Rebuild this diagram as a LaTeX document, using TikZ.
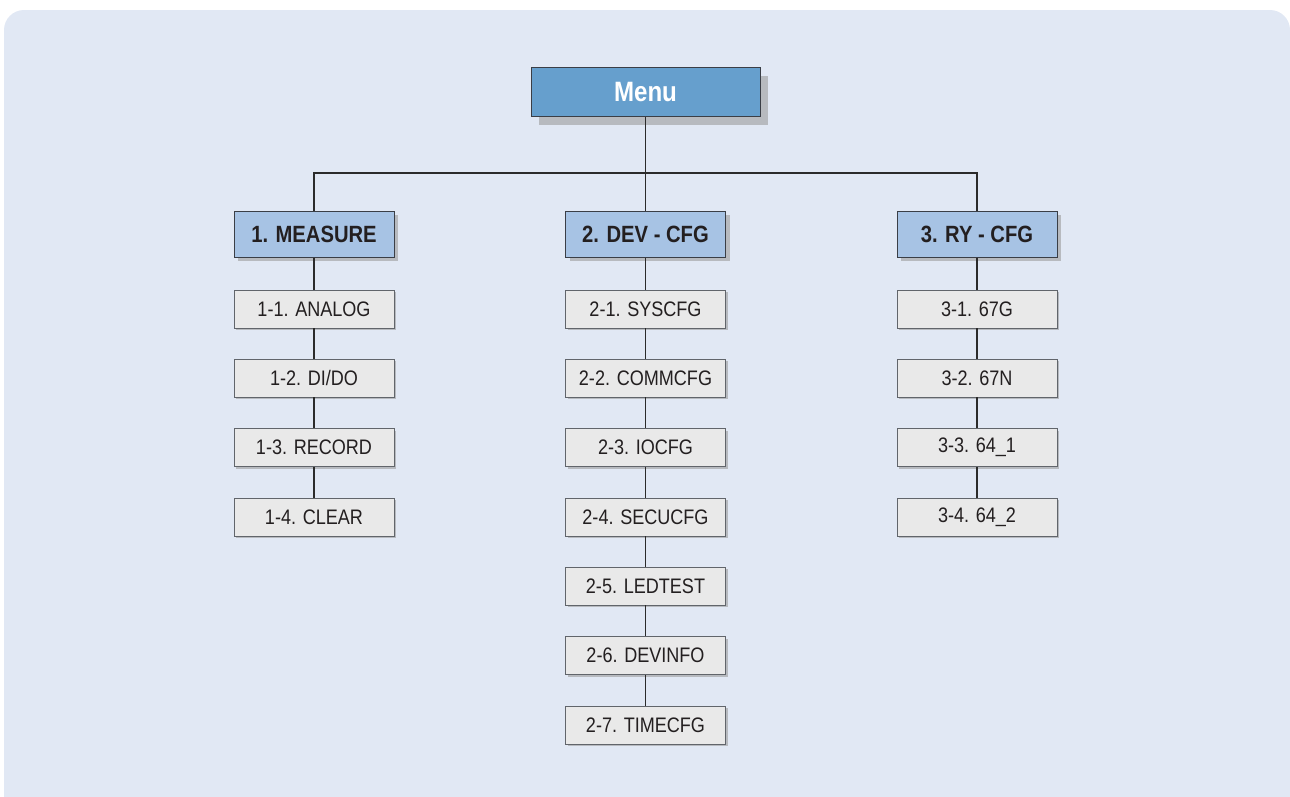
\documentclass[tikz,border=0pt]{standalone}
\usepackage{fontspec}
\setmainfont{Liberation Sans}[FakeStretch=0.86]
\usetikzlibrary{shadows}
\definecolor{bgcol}{HTML}{E1E8F4}
\definecolor{menucol}{HTML}{669FCD}
\definecolor{catcol}{HTML}{A7C3E4}
\definecolor{leafcol}{HTML}{E9E9E9}
\definecolor{shadowcol}{HTML}{B7BABF}
\definecolor{edgecol}{HTML}{3A3E46}
\definecolor{linecol}{HTML}{2B2B2B}
\definecolor{textcol}{HTML}{231F20}
\tikzset{
  menubox/.style={draw=edgecol, line width=1pt, fill=menucol, minimum width=229pt, minimum height=49pt,
    inner sep=0pt, text=white, font=\fontsize{28}{30}\selectfont\bfseries,
    drop shadow={shadow xshift=8pt, shadow yshift=-8pt, fill=shadowcol, opacity=1}},
  catbox/.style={draw=edgecol, line width=1pt, fill=catcol, minimum width=160pt, minimum height=46pt,
    inner sep=0pt, text=textcol, font=\fontsize{23.5}{26}\selectfont\bfseries,
    drop shadow={shadow xshift=4pt, shadow yshift=-4pt, fill=shadowcol, opacity=1}},
  leafbox/.style={draw=edgecol!80, line width=0.9pt, fill=leafcol, minimum width=160pt, minimum height=38pt,
    inner sep=0pt, text=textcol, font=\fontsize{21}{24}\selectfont,
    drop shadow={shadow xshift=2pt, shadow yshift=-2pt, fill=shadowcol, opacity=1}},
  conn/.style={draw=linecol, line width=1.4pt}
}
\begin{document}
\begin{tikzpicture}[x=1pt,y=-1pt]
\useasboundingbox (0,0) rectangle (1290,796);
\begin{scope}
  \clip (0,0) rectangle (1290,796);
  \fill[bgcol, rounded corners=20pt] (4,10) rectangle (1290,830);
\end{scope}

% connectors first (drawn under boxes)
\coordinate (j) at (645.5,173);
\coordinate (p1) at (314,234);
\coordinate (p2) at (645.5,234);
\coordinate (p3) at (977,234);

\node[menubox] (menu) at (645.5,92) {Menu};

\node[catbox] (c1) at (p1) {1. MEASURE};
\node[catbox] (c2) at (p2) {2. DEV - CFG};
\node[catbox] (c3) at (p3) {3. RY - CFG};

\node[leafbox] (a1) at (314,309) {1-1. ANALOG};
\node[leafbox] (a2) at (314,378) {1-2. DI/DO};
\node[leafbox] (a3) at (314,447.5) {1-3. RECORD};
\node[leafbox] (a4) at (314,517) {1-4. CLEAR};

\node[leafbox] (b1) at (645.5,309) {2-1. SYSCFG};
\node[leafbox] (b2) at (645.5,378) {2-2. COMMCFG};
\node[leafbox] (b3) at (645.5,447.5) {2-3. IOCFG};
\node[leafbox] (b4) at (645.5,517) {2-4. SECUCFG};
\node[leafbox] (b5) at (645.5,586) {2-5. LEDTEST};
\node[leafbox] (b6) at (645.5,655.5) {2-6. DEVINFO};
\node[leafbox] (b7) at (645.5,725) {2-7. TIMECFG};

\node[leafbox] (d1) at (977,309) {3-1. 67G};
\node[leafbox] (d2) at (977,378) {3-2. 67N};
\node[leafbox] (d3) at (977,447.5) {3-3. 64\_1};
\node[leafbox] (d4) at (977,517) {3-4. 64\_2};

\draw[conn] (menu.south) -- (j);
\draw[conn] (c1.north) |- (j) -| (c3.north);
\draw[conn] (j) -- (c2.north);

\draw[conn] (c1.south) -- (a1.north);
\draw[conn] (a1.south) -- (a2.north);
\draw[conn] (a2.south) -- (a3.north);
\draw[conn] (a3.south) -- (a4.north);

\draw[conn] (c2.south) -- (b1.north);
\draw[conn] (b1.south) -- (b2.north);
\draw[conn] (b2.south) -- (b3.north);
\draw[conn] (b3.south) -- (b4.north);
\draw[conn] (b4.south) -- (b5.north);
\draw[conn] (b5.south) -- (b6.north);
\draw[conn] (b6.south) -- (b7.north);

\draw[conn] (c3.south) -- (d1.north);
\draw[conn] (d1.south) -- (d2.north);
\draw[conn] (d2.south) -- (d3.north);
\draw[conn] (d3.south) -- (d4.north);
\end{tikzpicture}
\end{document}
